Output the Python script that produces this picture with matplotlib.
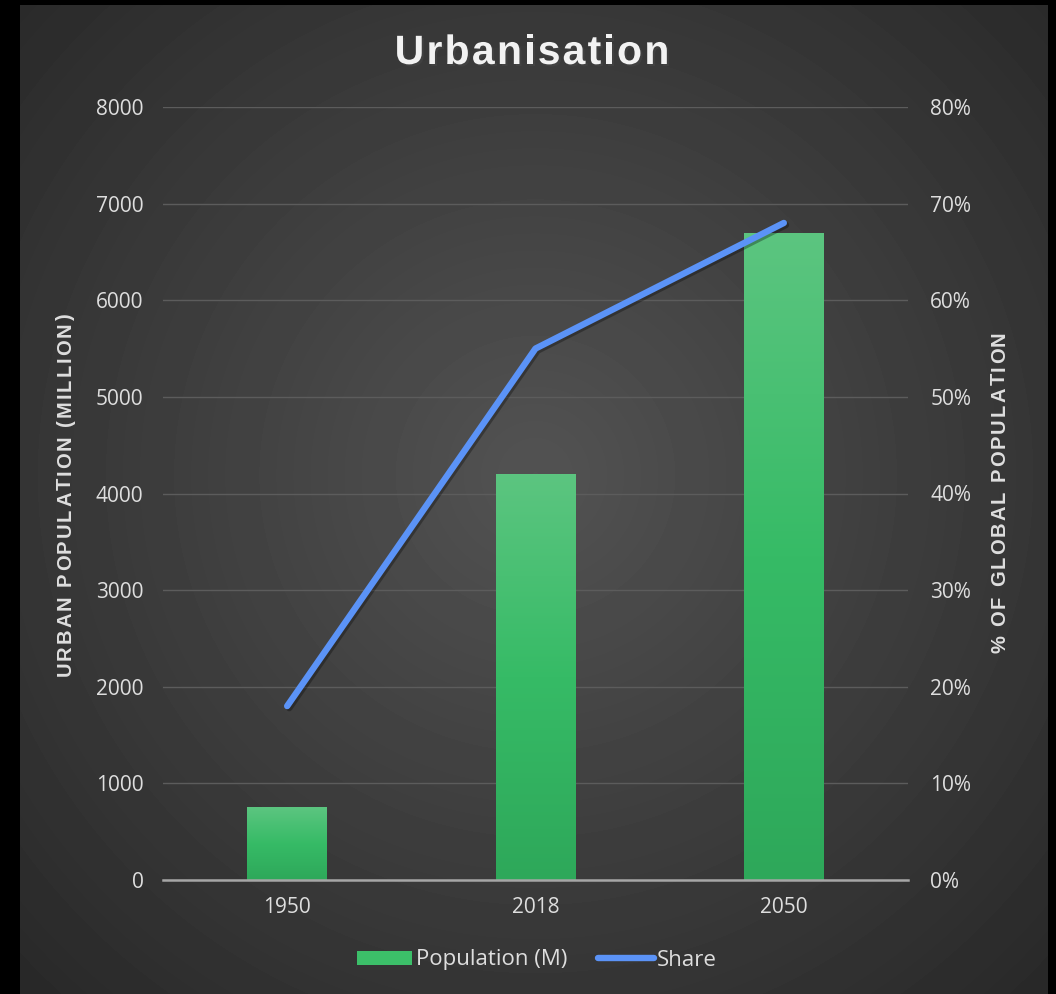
import numpy as np
import matplotlib
matplotlib.use('Agg')
import matplotlib.pyplot as plt
import matplotlib.patheffects as pe
from matplotlib.font_manager import FontProperties
from matplotlib.patches import Patch
from matplotlib.lines import Line2D
from matplotlib.colors import LinearSegmentedColormap

# data
years = ['1950', '2018', '2050']
population = [751, 4200, 6700]      # million
share = [18, 55, 68]                # % of global population
left_ticks = [0, 1000, 2000, 3000, 4000, 5000, 6000, 7000, 8000]
right_ticks = [0, 10, 20, 30, 40, 50, 60, 70, 80]

W, H = 1056, 994
TXT = '#dedede'
GREEN = '#3cbf69'
BLUE = '#5b93f7'
tick_font = FontProperties(family='Open Sans', size=15)

fig = plt.figure(figsize=(W / 100, H / 100), dpi=100, facecolor='black')

# dark radial background panel
bg = fig.add_axes([20 / W, 0, 1028 / W, 989 / H])
bg.axis('off')
yy, xx = np.mgrid[0:989, 0:1028]
r = np.clip(np.hypot(xx - 515, yy - 470) / 720, 0, 1)
shade = 0.325 - 0.165 * r
bg.imshow(shade, cmap='gray', vmin=0, vmax=1, aspect='auto', interpolation='bilinear')

ax = fig.add_axes([163 / W, 1 - 880 / H, 745 / W, 773 / H])
ax.patch.set_alpha(0)
x = np.arange(len(years))

bars = ax.bar(x, population, width=0.32, color=GREEN, zorder=2)
green_cmap = LinearSegmentedColormap.from_list('g', ['#2ea85a', '#36bb66', '#5cc580'])
grad = np.linspace(0, 1, 256).reshape(-1, 1)
for b in bars:
    im = ax.imshow(grad, cmap=green_cmap, origin='lower', aspect='auto', zorder=2.1,
                   extent=[b.get_x(), b.get_x() + b.get_width(), 0, b.get_height()])
    im.set_clip_path(b)

ax.set_xlim(-0.5, 2.5)
ax.set_ylim(0, 8000)
ax.set_xticks(x)
ax.set_xticklabels(years)
ax.set_yticks(left_ticks)
ax.yaxis.grid(True, color='#5c5c5c', lw=1)
ax.set_axisbelow(True)
for s in ['top', 'left', 'right']:
    ax.spines[s].set_visible(False)
ax.spines['bottom'].set_color('#a6a6a6')
ax.spines['bottom'].set_linewidth(1.8)
ax.spines['bottom'].set_zorder(3)
ax.tick_params(axis='y', length=0, pad=14)
ax.tick_params(axis='x', length=0, pad=12)
for lab in ax.get_xticklabels() + ax.get_yticklabels():
    lab.set_fontproperties(tick_font)
    lab.set_color(TXT)

ax2 = ax.twinx()
ax2.plot(x, share, color=BLUE, lw=4.6, solid_capstyle='round', solid_joinstyle='round',
         zorder=4, path_effects=[pe.SimpleLineShadow(offset=(1.5, -1.5), alpha=0.3), pe.Normal()])
ax2.set_ylim(0, 80)
ax2.set_yticks(right_ticks)
ax2.set_yticklabels([f'{v}%' for v in right_ticks])
ax2.tick_params(axis='y', length=0, pad=16)
for lab in ax2.get_yticklabels():
    lab.set_fontproperties(tick_font)
    lab.set_color(TXT)
for s in ax2.spines.values():
    s.set_visible(False)


def spaced_text(s, cx, cy, size, gap, rotation=0, **kw):
    # draw text letter by letter with extra tracking, (cx, cy) in pixels from top-left
    rend = fig.canvas.get_renderer()
    prop = FontProperties(family='Liberation Sans', weight='bold', size=size)
    widths = []
    for c in s:
        if c == ' ':
            w = (rend.get_text_width_height_descent('a a', prop, ismath=False)[0]
                 - rend.get_text_width_height_descent('aa', prop, ismath=False)[0])
        else:
            w = rend.get_text_width_height_descent(c, prop, ismath=False)[0]
        widths.append(w)
    total = sum(widths) + gap * (len(s) - 1)
    pos = -total / 2
    for c, w in zip(s, widths):
        mid = pos + w / 2
        if rotation == 0:
            fig.text((cx + mid) / W, 1 - cy / H, c, fontproperties=prop, ha='center',
                     va='baseline', **kw)
        else:
            fig.text(cx / W, 1 - (cy - mid) / H, c, fontproperties=prop, rotation=90,
                     rotation_mode='anchor', ha='center', va='baseline', **kw)
        pos += w + gap


spaced_text('Urbanisation', 532, 64, 29.5, 2.2, color='#f2f2f2',
            path_effects=[pe.SimplePatchShadow(offset=(1.5, -1.5), alpha=0.5), pe.Normal()])
spaced_text('URBAN POPULATION (MILLION)', 71, 495, 14.5, 2.0, rotation=90, color=TXT)
spaced_text('% OF GLOBAL POPULATION', 1005, 492, 14.5, 2.0, rotation=90, color=TXT)

handles = [Patch(facecolor=GREEN, label='Population (M)'),
           Line2D([], [], color=BLUE, lw=4.6, solid_capstyle='round', label='Share')]
fig.legend(handles=handles, loc='center', bbox_to_anchor=(537 / W, 1 - 960 / H), ncol=2,
           frameon=False, handlelength=2.5, handletextpad=0.15, columnspacing=1.4,
           handleheight=0.6, prop=FontProperties(family='Open Sans', size=16), labelcolor=TXT)

fig.savefig('out.png', dpi=100, facecolor='black')
